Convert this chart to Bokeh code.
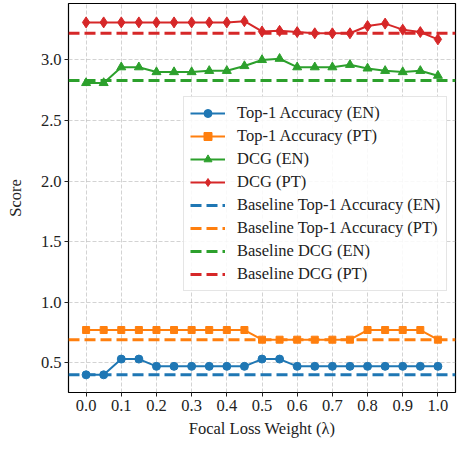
from bokeh.plotting import figure
from bokeh.models import Range1d, FixedTicker, Legend, LegendItem
from bokeh.embed import file_html
from bokeh.resources import INLINE

lambdas = [0.0, 0.05, 0.1, 0.15, 0.2, 0.25, 0.3, 0.35, 0.4, 0.45, 0.5,
           0.55, 0.6, 0.65, 0.7, 0.75, 0.8, 0.85, 0.9, 0.95, 1.0]
top1_en = [0.40, 0.40, 0.53, 0.53, 0.47, 0.47, 0.47, 0.47, 0.47, 0.47, 0.53,
           0.53, 0.47, 0.47, 0.47, 0.47, 0.47, 0.47, 0.47, 0.47, 0.47]
top1_pt = [0.77, 0.77, 0.77, 0.77, 0.77, 0.77, 0.77, 0.77, 0.77, 0.77, 0.69,
           0.69, 0.69, 0.69, 0.69, 0.69, 0.77, 0.77, 0.77, 0.77, 0.69]
dcg_en = [2.81, 2.81, 2.94, 2.94, 2.90, 2.90, 2.90, 2.91, 2.91, 2.95, 3.00,
          3.01, 2.94, 2.94, 2.94, 2.96, 2.93, 2.91, 2.90, 2.91, 2.87]
dcg_pt = [3.31, 3.31, 3.31, 3.31, 3.31, 3.31, 3.31, 3.31, 3.31, 3.32, 3.235,
          3.24, 3.23, 3.22, 3.22, 3.22, 3.28, 3.30, 3.25, 3.23, 3.17]
baseline_top1_en = 0.40
baseline_top1_pt = 0.69
baseline_dcg_en = 2.83
baseline_dcg_pt = 3.22

x_ticks = [0.0, 0.1, 0.2, 0.3, 0.4, 0.5, 0.6, 0.7, 0.8, 0.9, 1.0]
y_ticks = [0.5, 1.0, 1.5, 2.0, 2.5, 3.0]

FONT = "Liberation Serif"
FS = "16.5px"
C = ["#1f77b4", "#ff7f0e", "#2ca02c", "#d62728"]

xmin = min(lambdas) - 0.05 * (max(lambdas) - min(lambdas))
xmax = max(lambdas) + 0.05 * (max(lambdas) - min(lambdas))
all_y = top1_en + top1_pt + dcg_en + dcg_pt
ylo, yhi = min(all_y), max(all_y)
ymin = ylo - 0.05 * (yhi - ylo)
ymax = yhi + 0.05 * (yhi - ylo)

p = figure(width=457, height=440, output_backend="svg", toolbar_location=None,
           x_range=Range1d(xmin, xmax), y_range=Range1d(ymin, ymax),
           min_border_left=68, min_border_right=2, min_border_top=3, min_border_bottom=46)
p.min_border_right = 2

p.outline_line_color = "black"
p.outline_line_width = 1.2
p.background_fill_color = "white"
p.border_fill_color = "white"

for ax in (p.xaxis[0], p.yaxis[0]):
    ax.axis_line_color = None
    ax.major_tick_line_color = "#222222"
    ax.major_tick_line_width = 1
    ax.major_tick_out = 4
    ax.major_tick_in = 0
    ax.minor_tick_line_color = None
    ax.major_label_standoff = 3
    ax.major_label_text_font = FONT
    ax.major_label_text_font_size = FS
    ax.major_label_text_color = "#222222"
    ax.axis_label_text_font = FONT
    ax.axis_label_text_font_size = FS
    ax.axis_label_text_font_style = "normal"
    ax.axis_label_text_color = "#222222"

p.xaxis.ticker = FixedTicker(ticks=x_ticks)
p.yaxis.ticker = FixedTicker(ticks=y_ticks)
p.xaxis.major_label_overrides = {t: f"{t:.1f}" for t in x_ticks}
p.yaxis.major_label_overrides = {t: f"{t:.1f}" for t in y_ticks}
p.xaxis.axis_label = "Focal Loss Weight (λ)"
p.yaxis.axis_label = "Score"
p.xaxis.axis_label_standoff = 5
p.yaxis.axis_label_standoff = 13

for g in (p.xgrid[0], p.ygrid[0]):
    g.grid_line_color = "#b0b0b0"
    g.grid_line_alpha = 0.7
    g.grid_line_dash = "4 2"
    g.grid_line_width = 0.8

items = []
series = [(top1_en, "circle", 8, "Top-1 Accuracy (EN)"),
          (top1_pt, "square", 7, "Top-1 Accuracy (PT)"),
          (dcg_en, "triangle", 9, "DCG (EN)"),
          (dcg_pt, "diamond", 11, "DCG (PT)")]
for (ys, mk, sz, lab), c in zip(series, C):
    l = p.line(lambdas, ys, line_color=c, line_width=2)
    s = p.scatter(lambdas, ys, marker=mk, size=sz, fill_color=c, line_color=c)
    items.append(LegendItem(label=lab, renderers=[l, s]))

baselines = [(baseline_top1_en, "Baseline Top-1 Accuracy (EN)"),
             (baseline_top1_pt, "Baseline Top-1 Accuracy (PT)"),
             (baseline_dcg_en, "Baseline DCG (EN)"),
             (baseline_dcg_pt, "Baseline DCG (PT)")]
for (b, lab), c in zip(baselines, C):
    l = p.line([xmin, xmax], [b, b], line_color=c, line_width=3, line_dash="11 5")
    items.append(LegendItem(label=lab, renderers=[l]))

legend = Legend(items=items, location=(115, 101))
legend.label_text_font = FONT
legend.label_text_font_size = FS
legend.label_text_color = "#222222"
legend.glyph_width = 35
legend.glyph_height = 20
legend.label_height = 20
legend.spacing = 3
legend.padding = 6
legend.margin = 0
legend.label_standoff = 12
legend.border_line_color = "#cccccc"
legend.border_line_width = 1
legend.background_fill_alpha = 0.85
p.add_layout(legend, "center")

open("out.html", "w").write(file_html(p, INLINE))
